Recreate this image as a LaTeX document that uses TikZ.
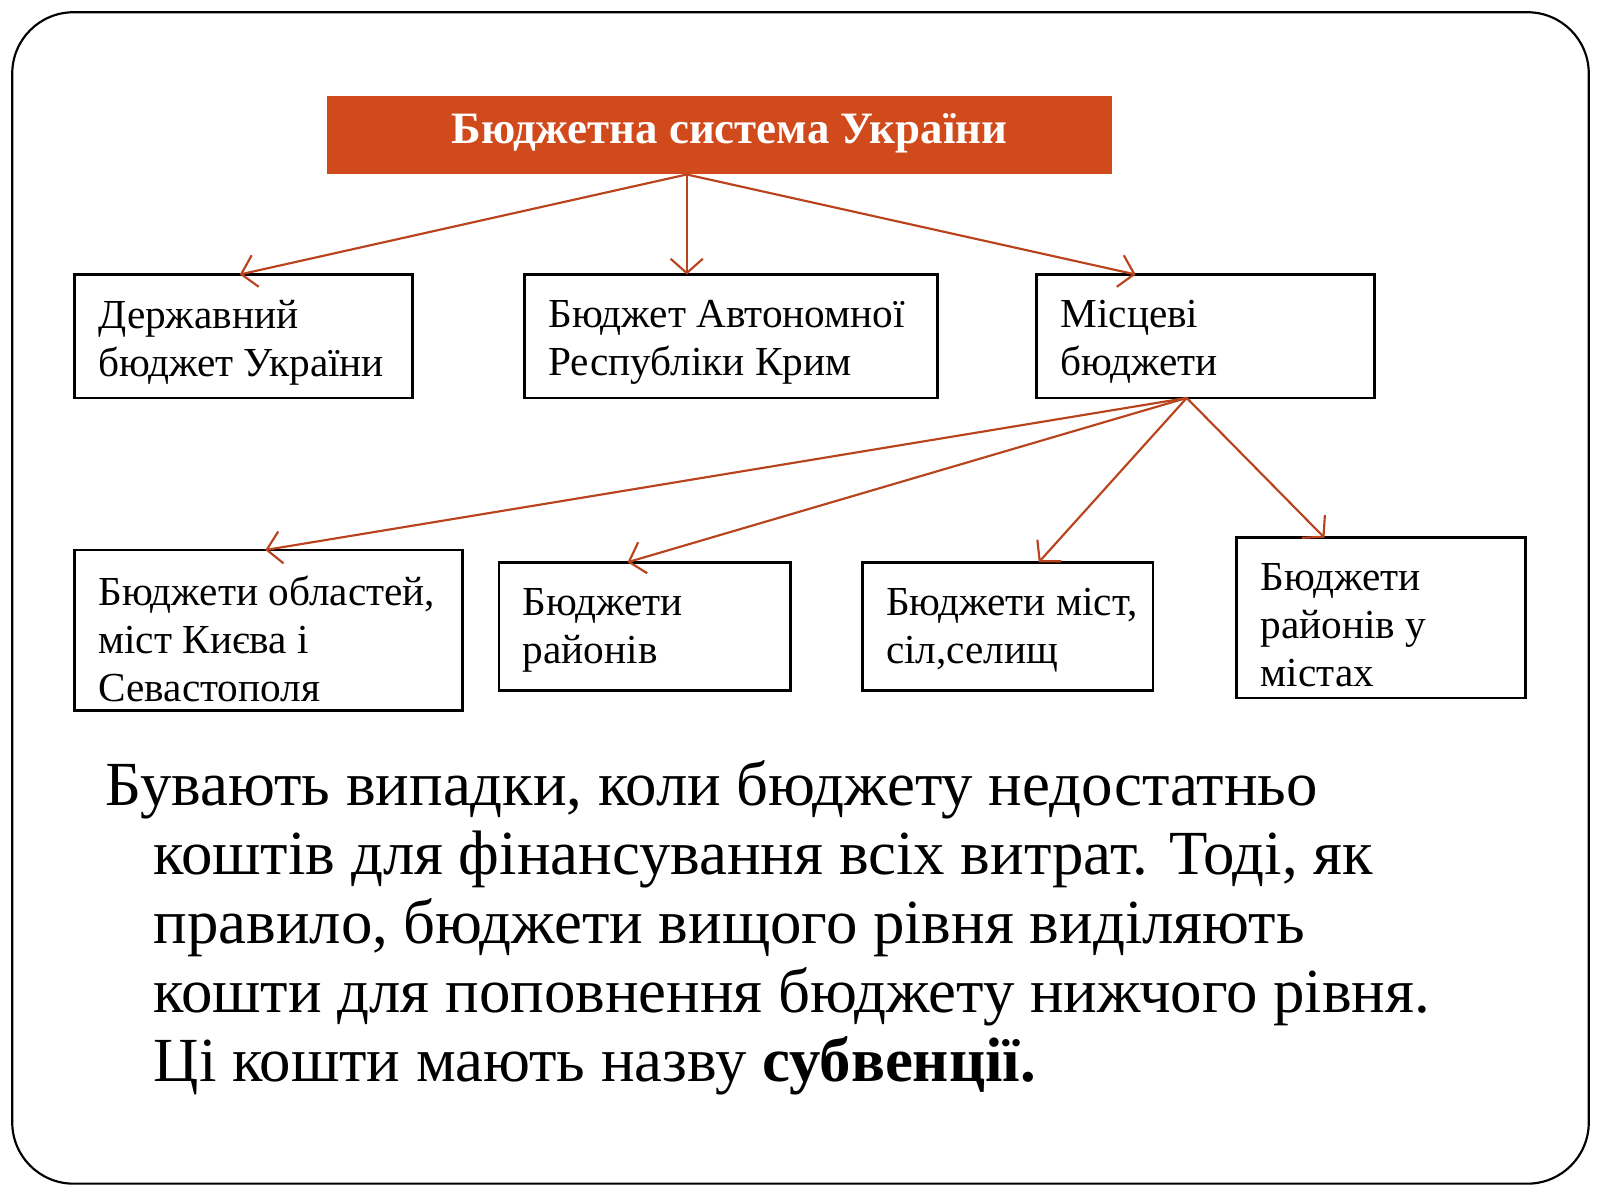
\documentclass[tikz,border=0pt]{standalone}
\usepackage{fontspec}
\setmainfont{Liberation Serif}
\usetikzlibrary{arrows.meta}
\definecolor{rust}{HTML}{D04A1C}
\definecolor{arrowred}{HTML}{B8431C}
\tikzset{
    budbox/.style={draw, line width=0.8pt, inner sep=0pt},
    budtext/.style={anchor=north west, align=left, font=\fontsize{11.5}{13.4}\selectfont},
    link/.style={arrowred, line width=0.6pt, -{Straight Barb[length=4pt,width=9pt]}}
}
\begin{document}
\begin{tikzpicture}[x=0.01cm,y=-0.01cm]
    \useasboundingbox (0,0) rectangle (1568,1176);
    \draw[line width=0.6pt, rounded corners=0.6cm] (12,12) rectangle (1557,1160);

    % title
    \fill[rust] (320,94) rectangle (1090,171);
    \node (title) at (715,131) {\color{white}\bfseries\fontsize{12.5}{14}\selectfont Бюджетна система України};
    \coordinate (tb) at (673,171);

    % first level
    \draw[budbox] (73,269) rectangle (404,390);
    \node[budtext] (derzh) at (84,282) {Державний\\бюджет України};
    \draw[budbox] (514,269) rectangle (919,390);
    \node[budtext] (ark) at (525,282) {Бюджет Автономної\\Республіки Крим};
    \draw[budbox] (1016,269) rectangle (1347,390);
    \node[budtext] (mistsevi) at (1027,282) {Місцеві\\бюджети};
    \coordinate (d) at (235,269);
    \coordinate (a) at (673,269);
    \coordinate (m) at (1113,269);
    \coordinate (mb) at (1163,390);

    % second level
    \draw[budbox] (73,539) rectangle (453,696);
    \node[budtext] (obl) at (84,552) {Бюджети областей,\\міст Києва і\\Севастополя};
    \draw[budbox] (489,551) rectangle (775,677);
    \node[budtext] (rai) at (500,564) {Бюджети\\районів};
    \draw[budbox] (845,551) rectangle (1130,677);
    \node[budtext] (mist) at (856,564) {Бюджети міст,\\сіл,селищ};
    \draw[budbox] (1212,527) rectangle (1495,684);
    \node[budtext] (raim) at (1223,540) {Бюджети\\районів у\\містах};
    \coordinate (o) at (260,539);
    \coordinate (r) at (615,551);
    \coordinate (s) at (1018,551);
    \coordinate (u) at (1298,527);

    \foreach \t in {d,a,m} \draw[link] (tb) -- (\t);
    \foreach \t in {o,r,s,u} \draw[link] (mb) -- (\t);

    % note
    \node[anchor=north west, align=left, inner sep=0pt, font=\fontsize{17.5}{19.2}\selectfont] (note) at (103,745)
        {Бувають випадки, коли бюджету недостатньо\\
         \hspace*{0.47cm}коштів для фінансування всіх витрат. Тоді, як\\
         \hspace*{0.47cm}правило, бюджети вищого рівня виділяють\\
         \hspace*{0.47cm}кошти для поповнення бюджету нижчого рівня.\\
         \hspace*{0.47cm}Ці кошти мають назву \textbf{субвенції.}};
\end{tikzpicture}
\end{document}
